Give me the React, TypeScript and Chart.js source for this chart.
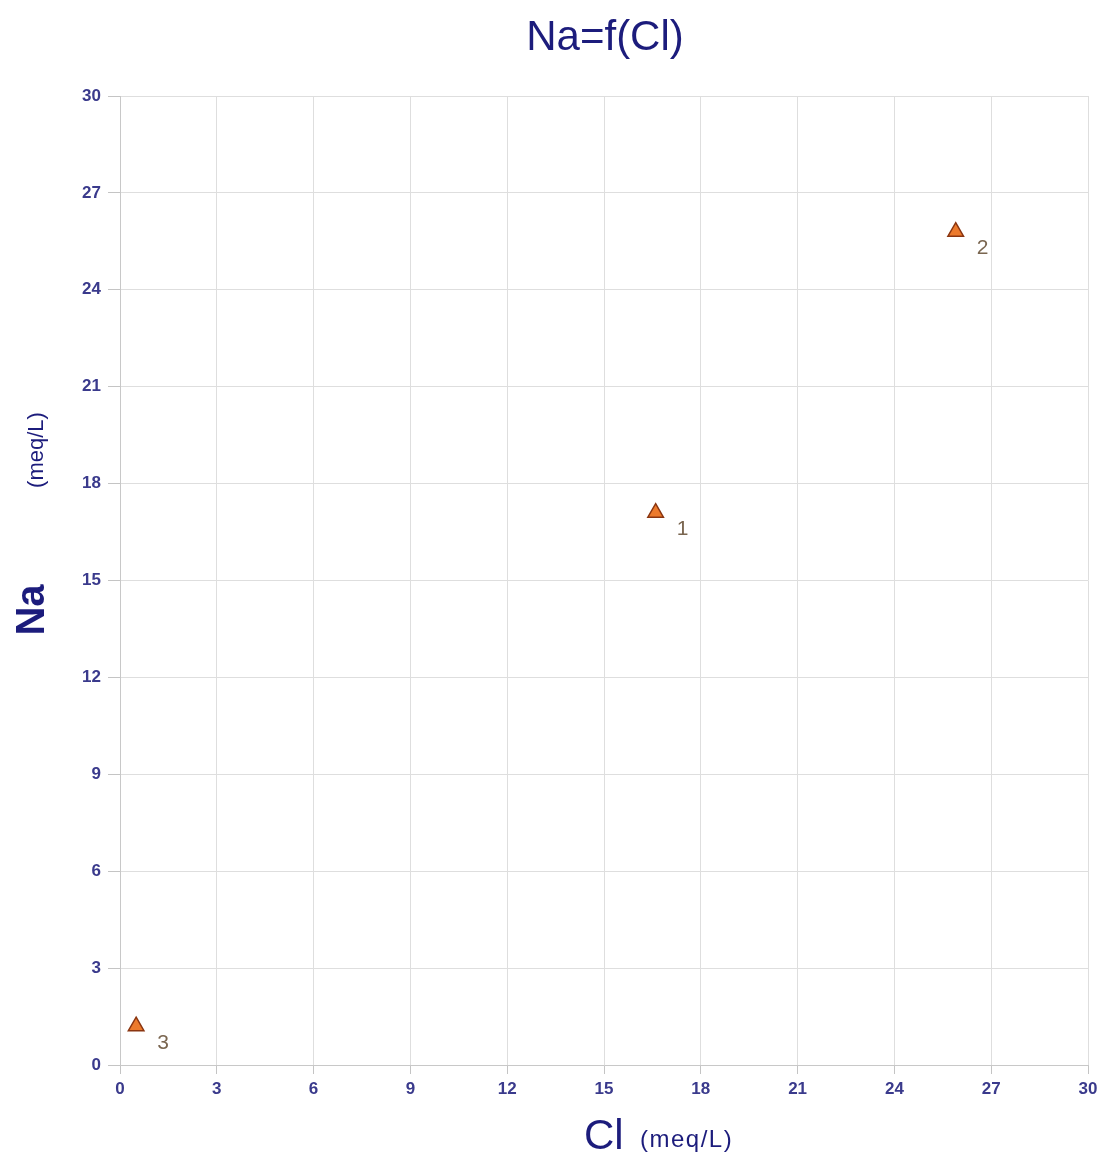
import React, { useEffect, useRef } from "react";
import { Chart, registerables } from "chart.js";

Chart.register(...registerables);

const sampleLabels = ["1", "2", "3"];
const clValues = [16.6, 25.9, 0.5];
const naValues = [17.1, 25.8, 1.2];
const tickValues = [0, 3, 6, 9, 12, 15, 18, 21, 24, 27, 30];
const chartTitle = "Na=f(Cl)";
const xTitle = "Cl";
const yTitle = "Na";
const unitText = "(meq/L)";

const NAVY = "#1c1c7c";
const TICK = "#3a3a8c";
const FAM = "Arial, 'Liberation Sans', sans-serif";

const overlay = {
  id: "overlay",
  afterDraw(chart: any) {
    const ctx = chart.ctx;
    const area = chart.chartArea;
    ctx.save();
    // title
    ctx.fillStyle = NAVY;
    ctx.textAlign = "center";
    ctx.textBaseline = "middle";
    ctx.font = `42px ${FAM}`;
    ctx.fillText(chartTitle, (area.left + area.right) / 2 + 1, 38);
    // x title
    ctx.textAlign = "left";
    ctx.font = `42px ${FAM}`;
    ctx.fillText(xTitle, 584, 1137);
    ctx.font = `24px ${FAM}`;
    (ctx as any).letterSpacing = "1.5px";
    ctx.fillText(unitText, 640, 1140);
    (ctx as any).letterSpacing = "0px";
    // y title
    ctx.save();
    ctx.translate(33, 610);
    ctx.rotate(-Math.PI / 2);
    ctx.textAlign = "center";
    ctx.font = `bold 40px ${FAM}`;
    ctx.fillText(yTitle, 0, 0);
    ctx.restore();
    ctx.save();
    ctx.translate(37, 450);
    ctx.rotate(-Math.PI / 2);
    ctx.textAlign = "center";
    ctx.font = `22px ${FAM}`;
    ctx.fillText(unitText, 0, 0);
    ctx.restore();
    // point labels
    const meta = chart.getDatasetMeta(0);
    ctx.fillStyle = "#7a6650";
    ctx.font = `21px ${FAM}`;
    ctx.textAlign = "center";
    meta.data.forEach((el: any, i: number) => {
      ctx.fillText(sampleLabels[i], el.x + 27, el.y + 17);
    });
    ctx.restore();
  },
};

export default function App() {
  const ref = useRef<HTMLCanvasElement>(null);
  useEffect(() => {
    document.body.style.margin = "0";
    const chart = new Chart(ref.current!, {
      type: "scatter",
      data: {
        datasets: [
          {
            data: clValues.map((x, i) => ({ x, y: naValues[i] })),
            pointStyle: "triangle",
            pointRadius: 9,
            pointBackgroundColor: "#ec7a2c",
            pointBorderColor: "#8a3510",
            pointBorderWidth: 1.5,
          },
        ],
      },
      plugins: [overlay],
      options: {
        animation: false,
        responsive: false,
        layout: { padding: { left: 0, top: 96, right: 16, bottom: 0 } },
        plugins: { legend: { display: false }, tooltip: { enabled: false } },
        scales: {
          x: {
            type: "linear",
            min: 0,
            max: 30,
            afterFit: (s: any) => {
              s.height = 92;
            },
            afterBuildTicks: (s: any) => {
              s.ticks = tickValues.map((v) => ({ value: v }));
            },
            grid: { color: "#dedede", tickLength: 9, tickColor: "#c4c4c4" },
            border: { color: "#c8c8c8" },
            ticks: { color: TICK, font: { size: 17, weight: "bold", family: FAM }, padding: 5 },
          },
          y: {
            type: "linear",
            min: 0,
            max: 30,
            afterFit: (s: any) => {
              s.width = 120;
            },
            afterBuildTicks: (s: any) => {
              s.ticks = tickValues.map((v) => ({ value: v }));
            },
            grid: { color: "#dedede", tickLength: 12, tickColor: "#c4c4c4" },
            border: { color: "#c8c8c8" },
            ticks: { color: TICK, font: { size: 17, weight: "bold", family: FAM }, padding: 7 },
          },
        },
      },
    } as any);
    return () => chart.destroy();
  }, []);
  return <canvas ref={ref} width={1104} height={1157} style={{ display: "block" }} />;
}
